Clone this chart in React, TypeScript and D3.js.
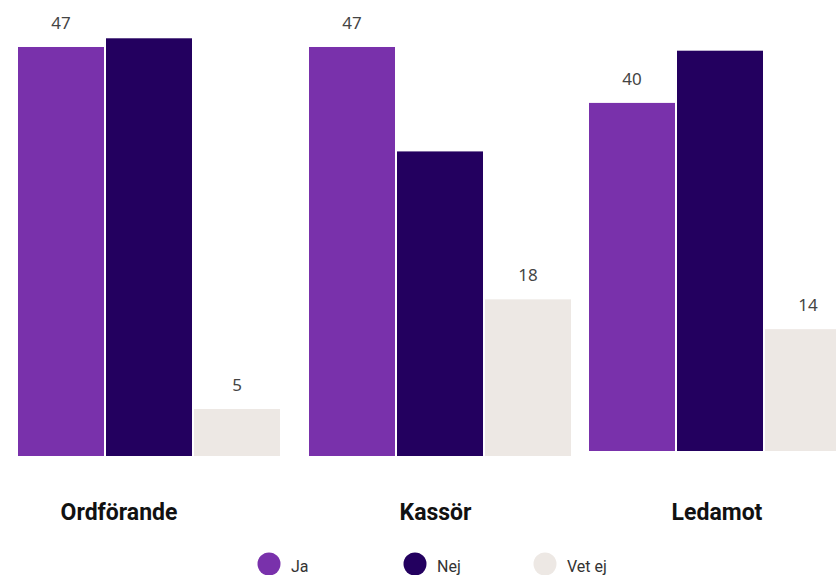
import React from "react";
import * as d3 from "d3";

// ---- data ----
const categories = ["Ordförande", "Kassör", "Ledamot"];
const series = ["Ja", "Nej", "Vet ej"];
const jaValues = [47, 47, 40];
const nejValues = [48, 35, 46];
const vetEjValues = [5.4, 18, 14];
const labeledSeries = ["Ja", "Vet ej"];

// ---- style / layout ----
const W = 836;
const H = 575;
const colors: Record<string, string> = { Ja: "#7931AB", Nej: "#23005F", "Vet ej": "#EDE8E4" };
const baseline = 456;
const groupStep = 286.6;
const groupWidth = 262;
const groupDx = [0, 4.4, -2.2];
const groupDy = [0, 0, -5];
const labelDx = [-30, -4.5, -3];
const legendX = [269, 415, 545];

export default function App() {
  const valuesBySeries: Record<string, number[]> = { Ja: jaValues, Nej: nejValues, "Vet ej": vetEjValues };
  const pi = 1 - groupWidth / groupStep;
  const x0 = d3.scaleBand<string>().domain(categories)
    .range([18, 18 + groupStep * (categories.length - pi)])
    .paddingInner(pi).paddingOuter(0);
  const x1 = d3.scaleBand<string>().domain(series).range([0, x0.bandwidth()]).paddingInner(2 / 88);
  const y = d3.scaleLinear().domain([0, 52.4]).range([baseline, 0]);
  const gx = (cat: string, gi: number) => (x0(cat) as number) + groupDx[gi];

  return (
    <svg width={W} height={H} style={{ position: "absolute", left: 0, top: 0, background: "#fff" }}>
      {categories.map((cat, gi) => (
        <g key={cat} transform={`translate(${gx(cat, gi)},${groupDy[gi]})`}>
          {series.map((s) => {
            const v = valuesBySeries[s][gi];
            return (
              <rect key={s} x={x1(s)} y={y(v)} width={x1.bandwidth()} height={baseline - y(v)} fill={colors[s]} />
            );
          })}
          {series.filter((s) => labeledSeries.includes(s)).map((s) => {
            const v = valuesBySeries[s][gi];
            return (
              <text key={s} x={(x1(s) as number) + x1.bandwidth() / 2} y={y(v) - 18} textAnchor="middle"
                fontFamily="'Noto Sans', sans-serif" fontSize={17} fill="#444">
                {Math.round(v)}
              </text>
            );
          })}
        </g>
      ))}
      {categories.map((cat, gi) => (
        <text key={cat} x={gx(cat, gi) + x0.bandwidth() / 2 + labelDx[gi]} y={520} textAnchor="middle"
          fontFamily="Roboto, sans-serif" fontWeight={700} fontSize={23} fill="#111">
          {cat}
        </text>
      ))}
      {series.map((s, i) => (
        <g key={s} transform={`translate(${legendX[i]},564)`}>
          <circle r={11.5} fill={colors[s]} />
          <text x={22} y={8} fontFamily="Roboto, sans-serif" fontSize={16} fill="#333">{s}</text>
        </g>
      ))}
    </svg>
  );
}
